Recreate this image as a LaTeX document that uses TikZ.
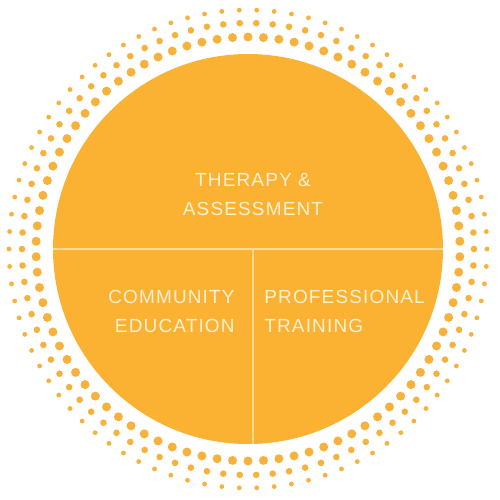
\documentclass[tikz,border=0pt]{standalone}
\usepackage{fontspec}
\usepackage{tikz}
\usetikzlibrary{positioning}
\newfontfamily\segfont{Liberation Sans}[LetterSpace=6]
\definecolor{sunorange}{HTML}{FBB131}
\definecolor{dotorange}{HTML}{F6B23C}
\definecolor{paleline}{HTML}{FDD98C}
\definecolor{paletext}{HTML}{FFF1D4}
\tikzstyle{sun}=[circle,fill=sunorange,minimum size=195pt,inner sep=0pt]
\tikzstyle{segtext}=[text=paletext,inner sep=0pt,font=\segfont\fontsize{9.5}{14.25}\selectfont]
\tikzstyle{divider}=[draw=paleline,line width=0.9pt]
\tikzstyle{dot}=[fill=dotorange]

\begin{document}
\begin{tikzpicture}[x=0.5pt,y=-0.5pt]
\useasboundingbox (0,0) rectangle (500,500);
%halftone ring
\foreach \k in {0,...,85}{
  \fill[dot] (248,249) ++({90+\k*(360/86)}:212) circle (4.5);
  \fill[dot] (248,249) ++({90+(\k+0.5)*(360/86)}:226) circle (3.3);
  \fill[dot] (248,249) ++({90+(\k+0.5)*(360/86)}:239) circle (2.4);
}
\node[sun] (sun) at (248,249) {};
\coordinate (split) at (253,249);
%dividers
\draw[divider] (sun.west) -- (sun.east);
\draw[divider] (split) -- (split |- sun.south);
%texts
\node[segtext,align=center,anchor=base] (therapy) at (253,215) {THERAPY \&\\ASSESSMENT};
\node[segtext,align=right,anchor=base east] (community) at (235,332) {COMMUNITY\\EDUCATION};
\node[segtext,align=left,anchor=base west] (professional) at (264,332) {PROFESSIONAL\\TRAINING};
\end{tikzpicture}
\end{document}
